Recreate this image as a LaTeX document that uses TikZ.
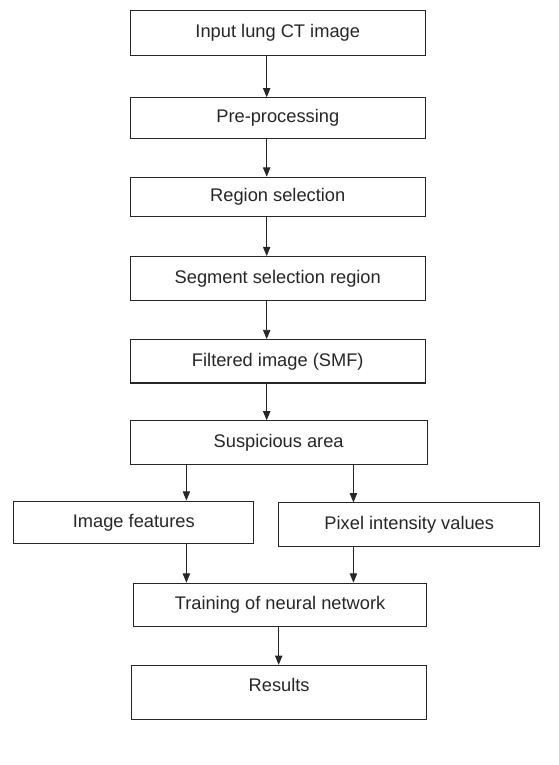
\documentclass[tikz,border=0pt]{standalone}
\usepackage{fontspec}
\setmainfont{Liberation Sans}
\usetikzlibrary{arrows.meta}
\begin{document}
\begin{tikzpicture}[x=0.03cm,y=-0.03cm]
\tikzstyle{every node}=[draw=black!85,line width=1pt,shape=rectangle,inner sep=0pt,text=black!85,font=\fontsize{16.9}{20}\selectfont,text height=0.43cm,text depth=0.12cm,minimum width=9.6cm];
\tikzstyle{arr}=[line width=0.8pt,draw=black!85,-{Triangle[length=0.3cm,width=0.24cm]}];
\useasboundingbox (0,0) rectangle (605,829);
\path (301,35.5) node[minimum height=1.47cm] (input) {Input lung CT image};
\path (301,128) node[minimum height=1.32cm] (prep) {Pre-processing};
\path (301,213.5) node[minimum height=1.29cm] (region) {Region selection};
\path (301,302) node[minimum height=1.44cm] (segment) {Segment selection region};
\path (301,391.5) node[minimum height=1.41cm] (filtered) {Filtered image (SMF)};
\path (302,479.5) node[minimum height=1.41cm,minimum width=9.66cm] (suspicious) {Suspicious area};
\path (145,566) node[minimum height=1.38cm,minimum width=7.8cm] (features) {Image features};
\path (443.5,568.5) node[minimum height=1.41cm,minimum width=8.49cm] (pixel) {Pixel intensity values};
\path (303.5,655.5) node[minimum height=1.41cm,minimum width=9.51cm] (training) {Training of neural network};
\path (302.5,750.5) node[minimum height=1.77cm,minimum width=9.57cm,text depth=0.51cm] (results) {Results};
% x positions of the arrows
\coordinate (xm) at (289,0);
\coordinate (xl) at (202,0);
\coordinate (xr) at (383,0);
\coordinate (xt) at (302,0);
\foreach \a/\b in {input/prep,prep/region,region/segment,segment/filtered,filtered/suspicious}
  \draw[arr] (\a.south -| xm) -- (\b.north -| xm);
\draw[arr] (suspicious.south -| xl) -- (features.north -| xl);
\draw[arr] (suspicious.south -| xr) -- (pixel.north -| xr);
\draw[arr] (features.south -| xl) -- (training.north -| xl);
\draw[arr] (pixel.south -| xr) -- (training.north -| xr);
\draw[arr] (training.south -| xt) -- (results.north -| xt);
\end{tikzpicture}
\end{document}
